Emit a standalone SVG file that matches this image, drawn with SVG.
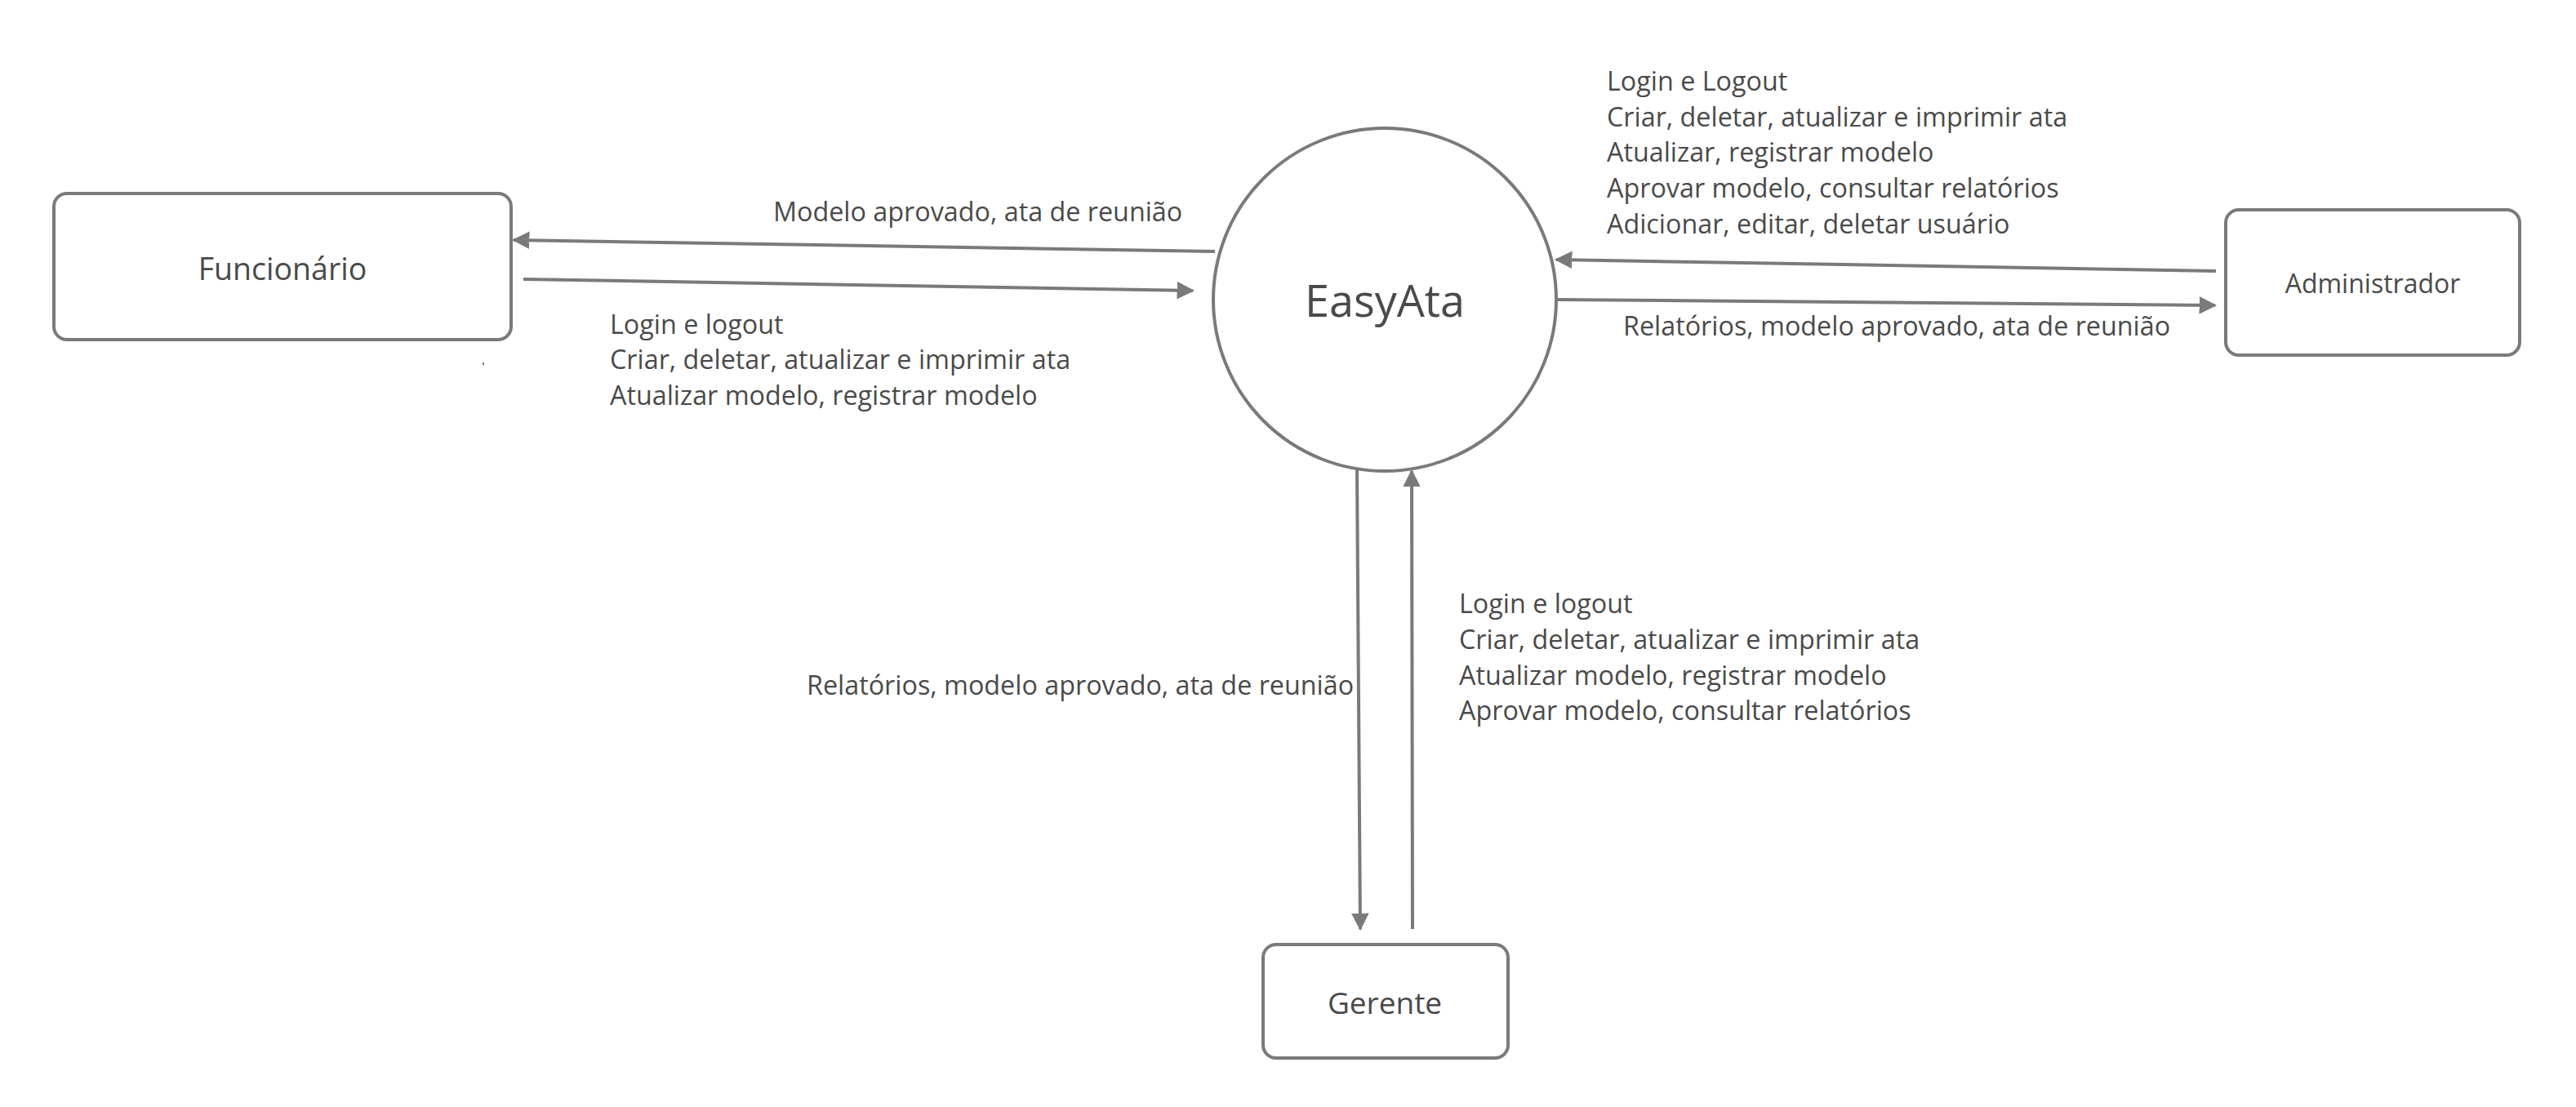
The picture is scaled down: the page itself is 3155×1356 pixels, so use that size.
<svg xmlns="http://www.w3.org/2000/svg" width="3155" height="1356" viewBox="0 0 3155 1356">
<defs>
<style>
.node{fill:#ffffff;stroke:#7a7a7a;stroke-width:4}
.conn{stroke:#7a7a7a;stroke-width:4;fill:none}
.lbl{font-family:"Open Sans","Noto Sans",sans-serif;fill:#4a4a4a}
.el{font-size:32.3px}
</style>
<marker id="arr" viewBox="0 0 10 10" refX="9" refY="5" markerWidth="5.4" markerHeight="6.8" markerUnits="strokeWidth" orient="auto">
<path d="M0,0 L10,5 L0,10 z" fill="#7a7a7a"/>
</marker>
</defs>
<rect width="3155" height="1356" fill="#ffffff"/>
<g id="connectors">
<line class="conn" x1="1488" y1="308" x2="629" y2="294" marker-end="url(#arr)"/>
<line class="conn" x1="641" y1="342" x2="1461" y2="356" marker-end="url(#arr)"/>
<line class="conn" x1="2714" y1="332" x2="1906" y2="318" marker-end="url(#arr)"/>
<line class="conn" x1="1906" y1="367" x2="2713" y2="374" marker-end="url(#arr)"/>
<line class="conn" x1="1662" y1="576" x2="1666" y2="1138" marker-end="url(#arr)"/>
<line class="conn" x1="1730" y1="1138" x2="1729" y2="577" marker-end="url(#arr)"/>
</g>
<g id="funcionario">
<rect class="node" x="66" y="237" width="560" height="179" rx="16"/>
<text class="lbl" x="346" y="343" font-size="37.5" text-anchor="middle">Funcionário</text>
</g>
<g id="easyata">
<circle class="node" cx="1696" cy="367" r="210"/>
<text class="lbl" x="1696" y="388" font-size="54" text-anchor="middle">EasyAta</text>
</g>
<g id="administrador">
<rect class="node" x="2726" y="257" width="360" height="178" rx="16"/>
<text class="lbl" x="2906" y="359" font-size="32" text-anchor="middle">Administrador</text>
</g>
<g id="gerente">
<rect class="node" x="1547" y="1157" width="300" height="139" rx="16"/>
<text class="lbl" x="1696" y="1242" font-size="37" text-anchor="middle">Gerente</text>
</g>
<g id="labels">
<text class="lbl el" x="947" y="271">Modelo aprovado, ata de reunião</text>
<text class="lbl el" x="747" y="409">Login e logout</text>
<text class="lbl el" x="747" y="452">Criar, deletar, atualizar e imprimir ata</text>
<text class="lbl el" x="747" y="496">Atualizar modelo, registrar modelo</text>
<rect x="591" y="444" width="2" height="3" fill="#7a7a7a"/>
<text class="lbl el" x="1968" y="111">Login e Logout</text>
<text class="lbl el" x="1968" y="155">Criar, deletar, atualizar e imprimir ata</text>
<text class="lbl el" x="1968" y="198">Atualizar, registrar modelo</text>
<text class="lbl el" x="1968" y="242">Aprovar modelo, consultar relatórios</text>
<text class="lbl el" x="1968" y="286">Adicionar, editar, deletar usuário</text>
<text class="lbl el" x="1988" y="411">Relatórios, modelo aprovado, ata de reunião</text>
<text class="lbl el" x="988" y="851">Relatórios, modelo aprovado, ata de reunião</text>
<text class="lbl el" x="1787" y="751">Login e logout</text>
<text class="lbl el" x="1787" y="795">Criar, deletar, atualizar e imprimir ata</text>
<text class="lbl el" x="1787" y="839">Atualizar modelo, registrar modelo</text>
<text class="lbl el" x="1787" y="882">Aprovar modelo, consultar relatórios</text>
</g>
</svg>
